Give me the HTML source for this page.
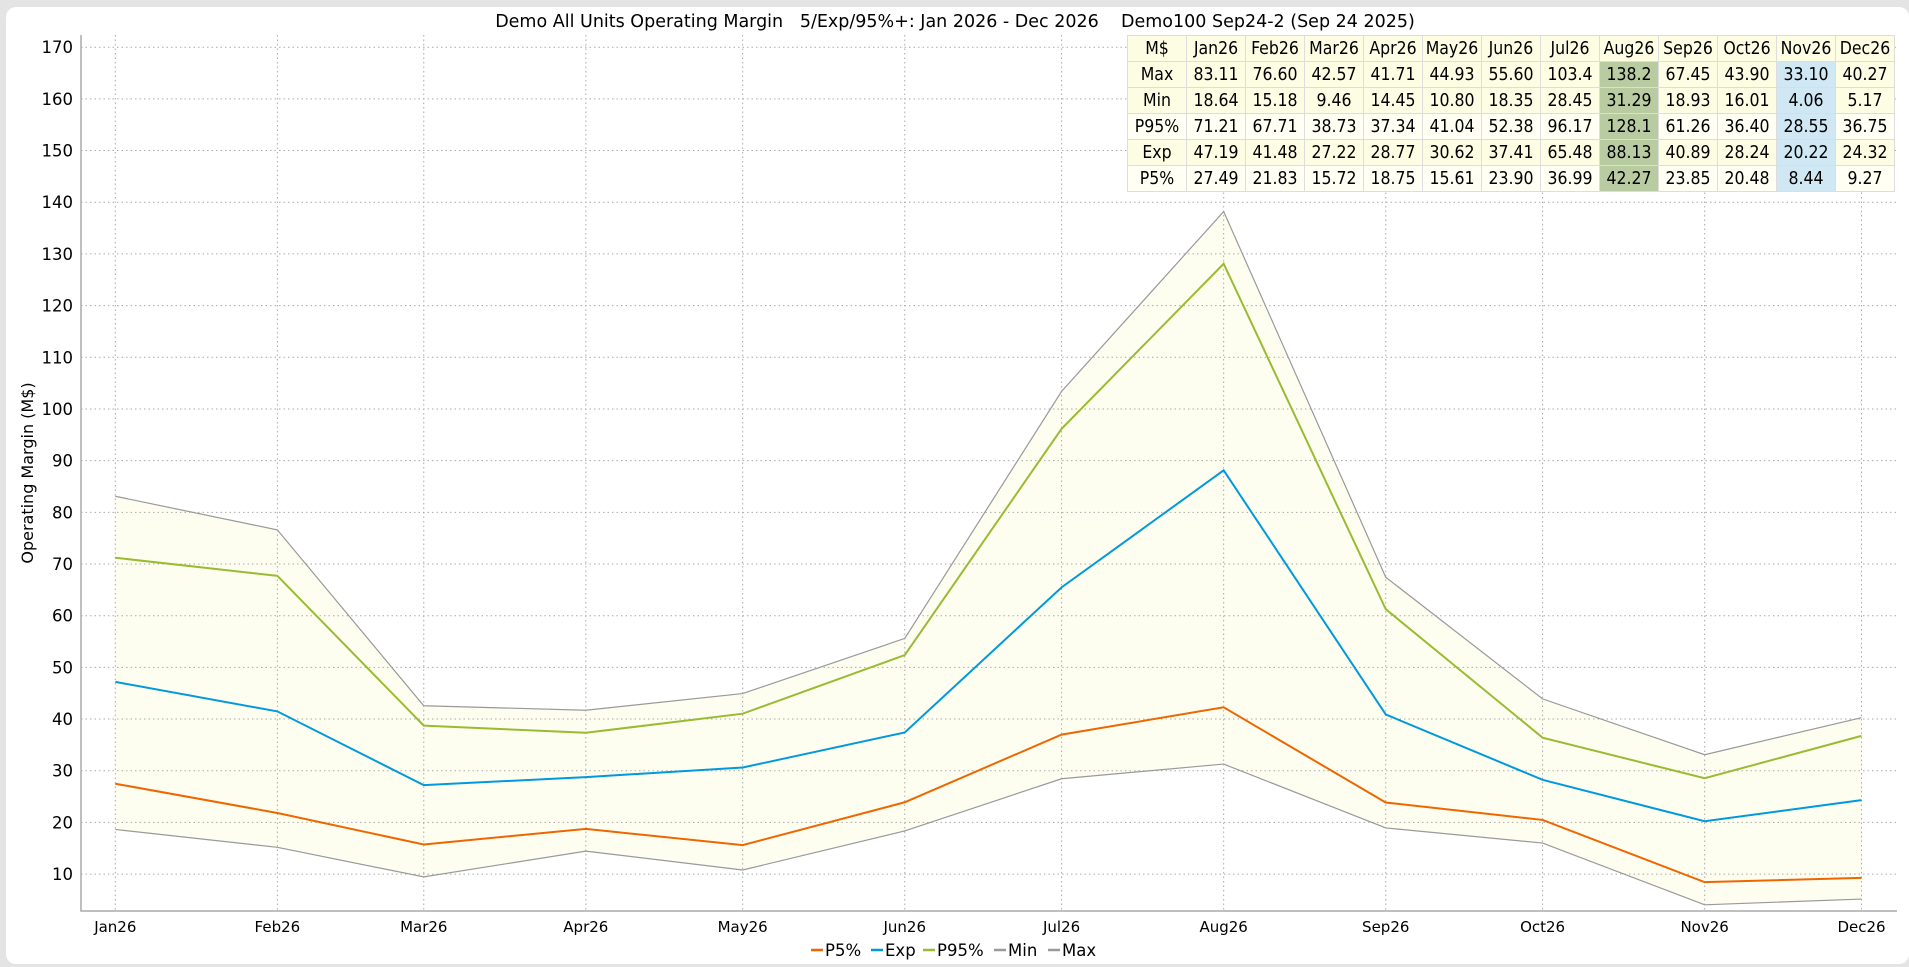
<!DOCTYPE html>
<html><head><meta charset="utf-8">
<style>
html,body{margin:0;padding:0;background:#e4e4e4;}
body{width:1909px;height:967px;overflow:hidden;position:relative;font-family:"DejaVu Sans","Liberation Sans",sans-serif;}
#card{position:absolute;left:6px;top:7px;width:1903px;height:957px;background:#fff;border-radius:10px;}
svg{position:absolute;left:0;top:0;}
table{position:absolute;left:1127px;top:35px;border-collapse:collapse;font-size:17.5px;font-family:"DejaVu Sans Condensed","DejaVu Sans","Liberation Sans",sans-serif;}
td{border:1px solid #ddd;height:25px;padding:0;text-align:center;width:58px;background:#fdfde4;color:#000;white-space:nowrap;overflow:hidden;}
tr.w td{background:#fffff4;}
td.g{background:#b9cca1 !important;}
td.b{background:#cfe8f4 !important;}
</style></head>
<body>
<div id="card"></div>
<svg id="chart" width="1909" height="967"></svg>
<table id="tbl">
<tr><td>M$</td><td>Jan26</td><td>Feb26</td><td>Mar26</td><td>Apr26</td><td>May26</td><td>Jun26</td><td>Jul26</td><td>Aug26</td><td>Sep26</td><td>Oct26</td><td>Nov26</td><td>Dec26</td></tr>
<tr><td>Max</td><td>83.11</td><td>76.60</td><td>42.57</td><td>41.71</td><td>44.93</td><td>55.60</td><td>103.4</td><td class="g">138.2</td><td>67.45</td><td>43.90</td><td class="b">33.10</td><td>40.27</td></tr>
<tr><td>Min</td><td>18.64</td><td>15.18</td><td>9.46</td><td>14.45</td><td>10.80</td><td>18.35</td><td>28.45</td><td class="g">31.29</td><td>18.93</td><td>16.01</td><td class="b">4.06</td><td>5.17</td></tr>
<tr class="w"><td>P95%</td><td>71.21</td><td>67.71</td><td>38.73</td><td>37.34</td><td>41.04</td><td>52.38</td><td>96.17</td><td class="g">128.1</td><td>61.26</td><td>36.40</td><td class="b">28.55</td><td>36.75</td></tr>
<tr><td>Exp</td><td>47.19</td><td>41.48</td><td>27.22</td><td>28.77</td><td>30.62</td><td>37.41</td><td>65.48</td><td class="g">88.13</td><td>40.89</td><td>28.24</td><td class="b">20.22</td><td>24.32</td></tr>
<tr class="w"><td>P5%</td><td>27.49</td><td>21.83</td><td>15.72</td><td>18.75</td><td>15.61</td><td>23.90</td><td>36.99</td><td class="g">42.27</td><td>23.85</td><td>20.48</td><td class="b">8.44</td><td>9.27</td></tr>
</table>
<script>
const categories=["Jan26","Feb26","Mar26","Apr26","May26","Jun26","Jul26","Aug26","Sep26","Oct26","Nov26","Dec26"];
const dayOfYear=[0,31,59,90,120,151,181,212,243,273,304,334];
const maxVals=[83.11,76.60,42.57,41.71,44.93,55.60,103.4,138.2,67.45,43.90,33.10,40.27];
const minVals=[18.64,15.18,9.46,14.45,10.80,18.35,28.45,31.29,18.93,16.01,4.06,5.17];
const p95Vals=[71.21,67.71,38.73,37.34,41.04,52.38,96.17,128.1,61.26,36.40,28.55,36.75];
const expVals=[47.19,41.48,27.22,28.77,30.62,37.41,65.48,88.13,40.89,28.24,20.22,24.32];
const p5Vals=[27.49,21.83,15.72,18.75,15.61,23.90,36.99,42.27,23.85,20.48,8.44,9.27];
const yTicks=[10,20,30,40,50,60,70,80,90,100,110,120,130,140,150,160,170];

const svg=document.getElementById('chart');
const NS='http://www.w3.org/2000/svg';
const L=81,R=1897,T=35,B=911;
const yMin=2.86,yMax=172.36;
const X0=115.3,X1=1861.5;
function x(i){return X0+(X1-X0)*dayOfYear[i]/dayOfYear[dayOfYear.length-1];}
function y(v){return B-(v-yMin)/(yMax-yMin)*(B-T);}
function el(t,a){const e=document.createElementNS(NS,t);for(const k in a)e.setAttribute(k,a[k]);svg.appendChild(e);return e;}

let t=el('text',{x:955,y:27,'text-anchor':'middle','font-size':'17.5',style:'white-space:pre'});


t.textContent='Demo All Units Operating Margin   5/Exp/95%+: Jan 2026 - Dec 2026    Demo100 Sep24-2 (Sep 24 2025)';

let pts=categories.map((c,i)=>x(i)+','+y(maxVals[i]));
for(let i=categories.length-1;i>=0;i--)pts.push(x(i)+','+y(minVals[i]));
let band=el('polygon',{points:pts.join(' '),fill:'#fefef0'});



yTicks.forEach(v=>{
  let g=el('line',{x1:L,x2:R,y1:y(v),y2:y(v),stroke:'#aaa','stroke-dasharray':'1.5,3','stroke-width':1});
  
  
  let tl=el('text',{x:L-8,y:y(v)+6,'text-anchor':'end','font-size':'16.5'});
  
  
  tl.textContent=v;
});
categories.forEach((c,i)=>{
  let g=el('line',{x1:x(i),x2:x(i),y1:T,y2:B,stroke:'#aaa','stroke-dasharray':'1.5,3','stroke-width':1});
  
  
  let tl=el('text',{x:x(i),y:932,'text-anchor':'middle','font-size':'15'});
  
  
  tl.textContent=c;
});
let ax=el('polyline',{points:`${L},${T} ${L},${B} ${R},${B}`,fill:'none',stroke:'#aaa','stroke-width':1.5});


let yt=el('text',{x:0,y:0,'text-anchor':'middle','font-size':'16',transform:`translate(33,${(T+B)/2}) rotate(-90)`});


yt.textContent='Operating Margin (M$)';

const series=[
 {name:'max-line',vals:maxVals,c:'#999',w:1.2},
 {name:'min-line',vals:minVals,c:'#999',w:1.2},
 {name:'p95-line',vals:p95Vals,c:'#99bb33',w:2},
 {name:'exp-line',vals:expVals,c:'#0099dd',w:2},
 {name:'p5-line',vals:p5Vals,c:'#ee6600',w:2}];
series.forEach(s=>{
  let p=el('polyline',{points:s.vals.map((v,i)=>x(i)+','+y(v)).join(' '),fill:'none',stroke:s.c,'stroke-width':s.w});
  
  
});

const legend=[['P5%','#ee6600'],['Exp','#0099dd'],['P95%','#99bb33'],['Min','#999'],['Max','#999']];
const legW=[60,52,71,54,52];
let lx=811;
legend.forEach((l,i)=>{
  let ln=el('line',{x1:lx,x2:lx+12,y1:950,y2:950,stroke:l[1],'stroke-width':2.5});
  
  
  let tx=el('text',{x:lx+14,y:956,'font-size':'16.5'});
  
  
  tx.textContent=l[0];
  lx+=legW[i];
});
</script>
</body></html>
